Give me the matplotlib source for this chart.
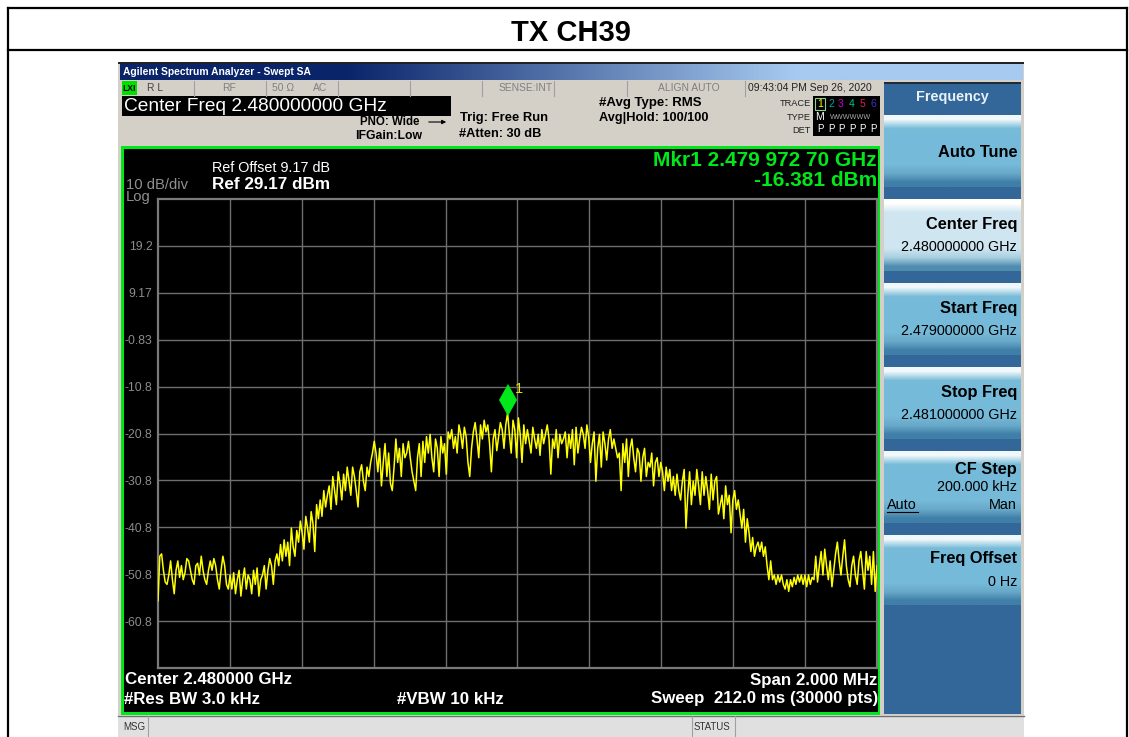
import numpy as np
import matplotlib
matplotlib.use("Agg")
from matplotlib import pyplot as plt
from matplotlib.patches import Rectangle

plt.rcParams['font.family'] = ['Liberation Sans', 'DejaVu Sans']

# trace, one list per graticule division (dBm)
div1 = [-56.5, -47, -46.5, -50, -52.5, -53, -51, -48, -52, -55,
        -50, -48, -51.5, -49, -52, -50.5, -47.5, -48, -50, -52,
        -53, -49, -48.5, -51, -47, -50, -52, -53, -50, -48,
        -50, -47.5, -49, -52, -54, -50, -47, -49, -53, -54]
div2 = [-51, -54, -50.5, -55, -52, -50, -55.5, -52, -49.5, -54,
        -51, -52, -55, -50, -53, -49.5, -55.5, -52, -51, -49,
        -54, -50, -47.5, -49, -53, -48, -46.5, -49, -44.5, -48,
        -43.5, -47, -44, -49, -41, -45, -47, -41.5, -44, -39.5]
div3 = [-42, -45.5, -38.5, -41, -44, -37.5, -40, -46, -36, -39,
        -35, -38.5, -33, -36.5, -34, -32, -37, -30, -33, -36,
        -29, -31.5, -35, -29.5, -33, -28, -31, -34, -28, -30,
        -33, -36.5, -29, -27.5, -31, -33, -28, -30, -27, -25]
div4 = [-22.5, -25, -29, -24, -32, -27, -23, -30, -25, -31.5,
        -33, -28, -22, -27, -24, -30, -23, -26, -25, -22.5,
        -26, -29, -31, -33, -26, -23, -30, -22.5, -27, -21.5,
        -25, -21, -26, -29, -22, -24, -30, -21.5, -25, -23]
div5 = [-29.5, -20.5, -22, -20, -24, -21.5, -25, -19, -21, -24,
        -19.5, -21.5, -27, -30, -24, -20.5, -18.5, -22, -26, -19,
        -22, -18, -20.5, -19, -23, -29, -22, -20, -24.5, -21.5,
        -18.5, -20, -24, -19, -16.4, -21, -25, -18, -20, -26]
div6 = [-17.5, -21, -27, -19, -23, -20, -22.5, -25, -19.5, -22,
        -24, -21, -25.5, -20, -23, -21, -19, -22, -29.5, -22,
        -24, -20, -26, -21, -23, -22, -20.5, -26, -21, -24,
        -20, -27.5, -19.5, -25, -22, -19.5, -21, -24, -19, -21.5]
div7 = [-27, -23, -20.5, -31, -24, -21, -28, -20.5, -23, -26.5,
        -22, -20, -24, -22, -24, -26, -25, -33, -23, -27,
        -22, -30, -24, -22, -26, -29, -24, -25, -31, -26,
        -24, -30, -27, -28, -25, -32, -27, -26, -30, -27]
div8 = [-29, -33, -28, -31, -28.5, -33, -30, -34, -29.5, -33,
        -35, -31, -28.5, -41, -34, -29, -36, -31, -34, -28.5,
        -32, -36, -29, -34, -30, -33, -37, -29.5, -35, -31,
        -30, -38, -36, -34, -39, -32, -36, -34, -42, -35]
div9 = [-33, -37, -35, -38, -41, -37, -44, -39, -42, -46,
        -43, -47, -45, -44, -46, -44, -47, -45, -49, -52,
        -48, -52, -51, -53, -51, -52.5, -51, -53, -54, -52,
        -54.5, -52, -53.5, -51.5, -53, -51, -52.5, -51, -53, -51]
div10 = [-53.5, -51, -53, -51.5, -52, -47, -52.5, -49, -46, -51,
         -45.5, -49, -52, -48, -53.5, -50, -46.5, -44, -48, -51,
         -47, -43.5, -49, -52, -53.5, -49, -47, -51, -53, -48,
         -46, -50, -54, -46, -50, -47, -53, -46, -54.5, -49]

y_labels = ['19.2', '9.17', '-0.83', '-10.8', '-20.8', '-30.8', '-40.8', '-50.8', '-60.8']
y_ticks = [19.17, 9.17, -0.83, -10.83, -20.83, -30.83, -40.83, -50.83, -60.83]
mkr_freq = 2.4799727
mkr_db = -16.381

softkey_tops = [115, 199, 283, 367, 451, 535]
softkey_bottoms = [187, 271, 355, 439, 523, 605]

fig = plt.figure(figsize=(11.29, 7.37), dpi=100, facecolor='white')
page = fig.add_axes([0, 0, 1, 1])
page.set_xlim(0, 1129)
page.set_ylim(737, 0)
page.axis('off')


def box(x0, y0, x1, y1, color, **kw):
    page.add_patch(Rectangle((x0, y0), x1 - x0, y1 - y0, facecolor=color, edgecolor='none', **kw))


def gradient(x0, y0, x1, y1, stops, horizontal=False):
    img = np.array([matplotlib.colors.to_rgb(c) for c in stops])
    img = img[np.newaxis, :, :] if horizontal else img[:, np.newaxis, :]
    page.imshow(img, extent=(x0, x1, y1, y0), aspect='auto', interpolation='bilinear', zorder=3)


def label(x, y, s, size=10, color='black', ha='left', weight='normal'):
    page.text(x, y, s, fontsize=size, color=color, ha=ha, va='center', fontweight=weight, zorder=5)


# page table lines
page.plot([8, 8], [737, 8], color='black', lw=1.6)
page.plot([8, 1127], [8, 8], color='black', lw=1.6)
page.plot([1127, 1127], [8, 737], color='black', lw=1.6)
page.plot([8, 1127], [50, 50], color='black', lw=1.6)
label(571, 33, 'TX CH39', size=21, ha='center', weight='bold')

# analyzer window
box(118, 62, 1024, 737, '#d4d0c8')
box(118, 62, 1024, 64, '#222222', zorder=2)
gradient(120, 64, 1023, 80, ['#0a246a', '#a6caf0'], horizontal=True)
label(123, 71.5, 'Agilent Spectrum Analyzer - Swept SA', size=7.4, color='white', weight='bold')

# status row
box(122, 81, 880, 96, '#d4d0c8', zorder=2)
box(122, 81, 137, 95, '#00e000', zorder=3)
label(122.5, 88, 'LXI', size=6.2, weight='bold')
for sx in [194, 266, 338, 410, 482, 554, 627, 745]:
    page.plot([sx, sx], [81, 96], color='#a0a0a0', lw=0.8, zorder=3)
label(147, 88, 'R L', size=7.4, color='#444444')
label(229, 88, 'RF', size=7.4, color='#808080', ha='center')
label(272, 88, '50 Ω', size=7.4, color='#808080')
label(320, 88, 'AC', size=7.4, color='#808080', ha='center')
label(526, 88, 'SENSE:INT', size=7.4, color='#808080', ha='center')
label(689, 88, 'ALIGN AUTO', size=7.4, color='#808080', ha='center')
label(810, 88, '09:43:04 PM Sep 26, 2020', size=7.5, color='#222222', ha='center')

box(122, 96, 451, 116, 'black', zorder=2)
label(124, 106, 'Center Freq 2.480000000 GHz', size=13.8, color='white')
label(419, 122, 'PNO: Wide', size=8.3, ha='right', weight='bold')
label(422, 136, 'IFGain:Low', size=8.8, ha='right', weight='bold')
page.annotate('', xy=(449, 122), xytext=(426, 122), zorder=5,
              arrowprops=dict(arrowstyle='-|>', color='black', lw=0.8, mutation_scale=6))
label(460, 118, 'Trig: Free Run', size=9.4, weight='bold')
label(459, 134, '#Atten: 30 dB', size=9.2, weight='bold')
label(599, 103, '#Avg Type: RMS', size=9.5, weight='bold')
label(599, 118, 'Avg|Hold: 100/100', size=9.2, weight='bold')

# trace indicator
label(811, 103, 'TRACE', size=6.7, color='#222222', ha='right')
label(811, 117, 'TYPE', size=6.7, color='#222222', ha='right')
label(811, 130, 'DET', size=6.7, color='#222222', ha='right')
box(813, 96, 880, 136, 'black', zorder=2)
for tx, tc, tn in zip([820, 831, 841, 852, 862, 873],
                      ['#ffff00', '#00a0a0', '#d000d0', '#00c080', '#e02050', '#4030c0'],
                      ['1', '2', '3', '4', '5', '6']):
    label(tx, 104, tn, size=7.5, color=tc, ha='center')
    label(tx, 129, 'P', size=7, color='white', ha='center')
page.add_patch(Rectangle((815, 98), 10, 12, fill=False, edgecolor='#90d090', lw=0.8, zorder=5))
label(820, 117, 'M', size=7.5, color='white', ha='center')
label(851, 117, 'WWWWWW', size=5.2, color='#aaaaaa', ha='center')

# screen
box(121, 146, 880, 715, '#00e81a', zorder=2)
box(124, 149, 877.5, 712, 'black', zorder=2)
label(212, 168, 'Ref Offset 9.17 dB', size=10.4, color='white')
label(212, 184, 'Ref 29.17 dBm', size=12.3, color='white', weight='bold')
label(126, 185, '10 dB/div', size=10.6, color='#909090')
label(126, 197, 'Log', size=10.6, color='#909090')
label(877, 160, 'Mkr1 2.479 972 70 GHz', size=15, color='#00e81a', ha='right', weight='bold')
label(877, 180, '-16.381 dBm', size=15, color='#00e81a', ha='right', weight='bold')
label(125, 680, 'Center 2.480000 GHz', size=12.2, color='white', weight='bold')
label(877, 680, 'Span 2.000 MHz', size=12.2, color='white', ha='right', weight='bold')
label(124, 699, '#Res BW 3.0 kHz', size=12.2, color='white', weight='bold')
label(397, 699, '#VBW 10 kHz', size=12.2, color='white', weight='bold')
label(878, 699, 'Sweep  212.0 ms (30000 pts)', size=12.2, color='white', ha='right', weight='bold')

# softkeys
box(884, 82, 1021, 714, '#336699', zorder=2)
box(884, 82, 1021, 84, '#1c2c3c', zorder=3)
label(952, 97, 'Frequency', size=10.4, color='#e8f0f8', ha='center', weight='bold')
for i in range(6):
    top, bottom = softkey_tops[i], softkey_bottoms[i]
    if i == 1:
        stops = ['#ffffff', '#cfe6f1', '#cfe6f1', '#cfe6f1', '#cfe6f1', '#cfe6f1', '#a8cfe0', '#4f8db0']
    else:
        stops = ['#f0f8fb', '#78bcd9', '#76bada', '#76bada', '#76bada', '#76bada', '#68a8c8', '#3f7fa8']
    gradient(884, top, 1021, bottom, stops)
label(1017, 152, 'Auto Tune', size=11.8, ha='right', weight='bold')
label(1017, 224, 'Center Freq', size=11.8, ha='right', weight='bold')
label(1017, 247, '2.480000000 GHz', size=10.4, ha='right')
label(1017, 308, 'Start Freq', size=11.8, ha='right', weight='bold')
label(1017, 331, '2.479000000 GHz', size=10.4, ha='right')
label(1017, 392, 'Stop Freq', size=11.8, ha='right', weight='bold')
label(1017, 415, '2.481000000 GHz', size=10.4, ha='right')
label(1017, 469, 'CF Step', size=11.8, ha='right', weight='bold')
label(1017, 487, '200.000 kHz', size=10.4, ha='right')
label(887, 505, 'Auto', size=10.4)
page.plot([887, 918], [512, 512], color='black', lw=0.8, zorder=5)
label(1017, 505, 'Man', size=10.4, ha='right')
label(1017, 559, 'Freq Offset', size=11.8, ha='right', weight='bold')
label(1017, 582, '0 Hz', size=10.4, ha='right')

# message bar
box(118, 715, 1024, 737, '#e0e0e0', zorder=2)
page.plot([118, 1024], [715.5, 715.5], color='#707070', lw=1, zorder=3)
for sx in [148, 692, 735]:
    page.plot([sx, sx], [716, 737], color='#a0a0a0', lw=0.8, zorder=3)
label(123, 727, 'MSG', size=7, color='#333333')
label(694, 727, 'STATUS', size=7, color='#333333')

# graticule and trace
left, right, top_px, bottom_px = 158, 877, 199, 668
ax = fig.add_axes([left / 1129, 1 - bottom_px / 737, (right - left) / 1129, (bottom_px - top_px) / 737])
ax.set_facecolor('black')
ax.set_xlim(2.479, 2.481)
ax.set_ylim(-70.83, 29.17)
ax.set_xticks(np.linspace(2.479, 2.481, 11)[1:-1])
ax.set_yticks(y_ticks)
ax.set_yticklabels(y_labels, fontsize=8.8, color='#8c8c8c')
ax.set_xticklabels([])
ax.tick_params(length=0, pad=4)
ax.grid(True, color='#6e6e6e', lw=1.0)
ax.set_axisbelow(True)
for s in ax.spines.values():
    s.set_color('#7a7a7a')
    s.set_linewidth(1.6)

trace = np.array(div1 + div2 + div3 + div4 + div5 + div6 + div7 + div8 + div9 + div10)
freq = np.linspace(2.479, 2.481, len(trace))
ax.plot(freq, trace, color='#ffff00', lw=1.1, zorder=3)
ax.plot([mkr_freq], [mkr_db + 2.8], marker='d', color='#00e81a', ms=16, mew=0, zorder=4)
ax.text(mkr_freq + 0.000032, mkr_db + 5.0, '1', color='#e8e800', fontsize=10.5, ha='center', va='center', zorder=4)

page.set_xlim(0, 1129)
page.set_ylim(737, 0)
fig.savefig('out.png', dpi=100)
